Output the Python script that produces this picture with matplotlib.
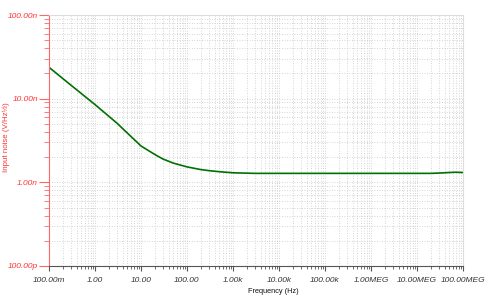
import matplotlib
matplotlib.use("Agg")
import matplotlib.pyplot as plt
from matplotlib.ticker import FixedLocator, LogLocator, NullFormatter

freq = [0.1, 0.3, 1, 3, 5, 10, 15, 20, 30, 50, 100, 200, 300, 500, 1e3, 3e3, 1e4, 1e5, 1e6, 1e7, 2e7, 3e7, 5e7, 7e7, 1e8]
noise_nv = [23.7, 14.5, 8.5, 5.1, 3.9, 2.72, 2.37, 2.15, 1.9, 1.7, 1.53, 1.42, 1.38, 1.34, 1.3, 1.28, 1.28, 1.28, 1.28, 1.28, 1.28, 1.29, 1.31, 1.32, 1.31]
xticks = [0.1, 1, 10, 100, 1e3, 1e4, 1e5, 1e6, 1e7, 1e8]
xlabels = ["100.00m", "1.00", "10.00", "100.00", "1.00k", "10.00k", "100.00k", "1.00MEG", "10.00MEG", "100.00MEG"]
yticks = [1e-10, 1e-9, 1e-8, 1e-7]
ylabels = ["100.00p", "1.00n", "10.00n", "100.00n"]

plt.rcParams['font.family'] = ['Liberation Sans', 'DejaVu Sans']
fig = plt.figure(figsize=(5.0, 3.01), dpi=100)
ax = fig.add_axes([49/500, 1-266/301, (463-49)/500, (266-15)/301])

noise = [v * 1e-9 for v in noise_nv]
ax.plot(freq, noise, color="#007000", lw=1.2)
ax.set_xscale("log")
ax.set_yscale("log")
ax.set_xlim(0.1, 1e8)
ax.set_ylim(1e-10, 1e-7)

ax.xaxis.set_major_locator(FixedLocator(xticks))
ax.set_xticklabels(xlabels, fontsize=6, style="italic", color="#333333")
ax.yaxis.set_major_locator(FixedLocator(yticks))
ax.set_yticklabels(ylabels, fontsize=6, style="italic", color="#ff3333")
ax.xaxis.set_minor_locator(LogLocator(base=10, subs=range(2, 10), numticks=20))
ax.yaxis.set_minor_locator(LogLocator(base=10, subs=range(2, 10), numticks=20))
ax.xaxis.set_minor_formatter(NullFormatter())
ax.yaxis.set_minor_formatter(NullFormatter())

ax.tick_params(axis="x", which="major", length=3.6, color="#555555", pad=4.5)
ax.tick_params(axis="x", which="minor", length=2.2, color="#555555")
ax.tick_params(axis="y", which="major", length=7.2, color="#ff6666", pad=0.8)
ax.tick_params(axis="y", which="minor", length=3.6, color="#ff6666")

ax.grid(True, which="both", color="#c8c8c8", linestyle=(0, (1, 2)), lw=0.6)
ax.spines["left"].set_color("#ff6666")
ax.spines["bottom"].set_color("#555555")
ax.spines["top"].set_color("#dddddd")
ax.spines["right"].set_color("#dddddd")

ax.set_xlabel("Frequency (Hz)", fontsize=5.3, color="#111111")
ax.xaxis.set_label_coords((273 - 49) / 414, (266 - 288) / 251)
ax.set_ylabel("Input noise (V/Hz½)", fontsize=5.7, color="#ff3333")
ax.yaxis.set_label_coords((10 - 49) / 414, (266 - 137) / 251)

fig.savefig("out.png", dpi=100)
